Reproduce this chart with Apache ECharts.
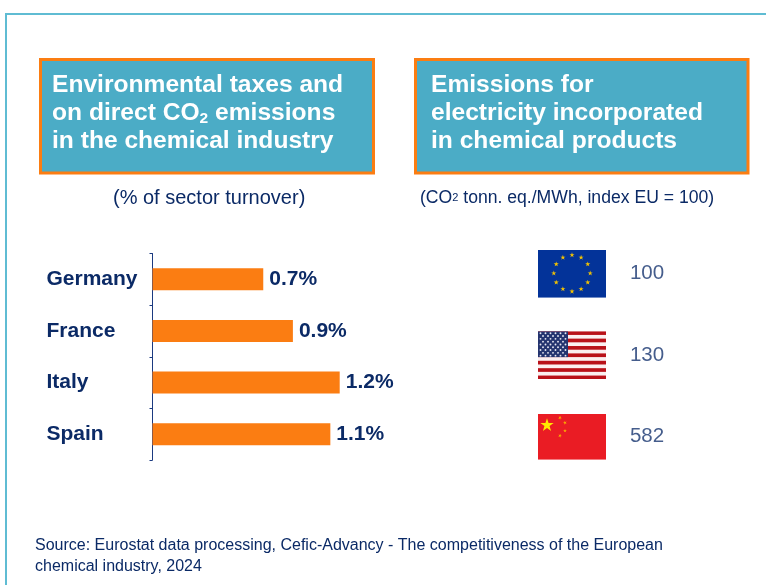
<!DOCTYPE html>
<html><head><meta charset="utf-8">
<script src="https://cdn.jsdelivr.net/npm/echarts@6/dist/echarts.min.js"></script>
<style>html,body{margin:0;padding:0;background:#fff}#c{width:766px;height:585px}</style></head>
<body><div id="c"></div>
<script>
const countries = ['Germany','France','Italy','Spain'];
const taxShare = [0.71,0.90,1.20,1.14];
const regions = ['EU','USA','China'];
const emissionIndex = [100,130,582];
const NAVY='#0b2a66', ORANGE='#fb7d12', TEAL='#4bacc6', FRAME='#5fbcd3';
const FONT='"Liberation Sans",Arial,sans-serif';

function star(cx,cy,r,fill,rot){
  let pts=[];
  for(let i=0;i<10;i++){
    const a=(rot||0)-Math.PI/2+i*Math.PI/5, q=i%2?r*0.382:r;
    pts.push((cx+q*Math.cos(a)).toFixed(2)+','+(cy+q*Math.sin(a)).toFixed(2));
  }
  return `<polygon points="${pts.join(' ')}" fill="${fill}"/>`;
}
function uri(w,h,body){
  return 'image://data:image/svg+xml;charset=utf-8,'+encodeURIComponent(
    `<svg xmlns="http://www.w3.org/2000/svg" width="${w}" height="${h}" viewBox="0 0 ${w} ${h}">${body}</svg>`);
}
function euFlag(){
  let s='<rect width="68" height="48" fill="#033399"/>';
  for(let i=0;i<12;i++){
    const a=i*Math.PI/6;
    s+=star(34+18.2*Math.sin(a),23.5-18.2*Math.cos(a),2.7,'#f5c400');
  }
  return uri(68,48,s);
}
function usFlag(){
  const sh=48/13;
  let s='<rect width="68" height="48" fill="#fbeff0"/>';
  for(let i=0;i<13;i+=2) s+=`<rect y="${(i*sh).toFixed(2)}" width="68" height="${sh.toFixed(2)}" fill="#b91119"/>`;
  s+=`<rect width="30" height="${(7*sh).toFixed(2)}" fill="#24346f"/>`;
  for(let r=0;r<9;r++){
    const n=r%2?5:6;
    for(let c=0;c<n;c++){
      const x=(r%2?5:2.5)+c*5, y=2+r*2.8;
      s+=`<circle cx="${x}" cy="${y.toFixed(1)}" r="0.95" fill="#e8e8f2"/>`;
    }
  }
  return uri(68,48,s);
}
function cnFlag(){
  let s='<rect width="68" height="46" fill="#ea1c24"/>';
  s+=star(9,11.5,7,'#ffe800');
  s+=star(22,4,2,'#f9b000',0.6)+star(27,9,2,'#f9b000',0.9)+star(27,17,2,'#f9b000',0);
  s+=star(22,22,2,'#f9b000',0.5);
  return uri(68,46,s);
}
const flags=[euFlag(),usFlag(),cnFlag()];
const flagSizes=[[68,48],[68,48],[68,46]];

const chart=echarts.init(document.getElementById('c'),null,{renderer:'canvas'});
function headerBox(x,y,w,h){
  return {type:'rect',shape:{x:x,y:y,width:w,height:h},
    style:{fill:TEAL,stroke:ORANGE,lineWidth:3},z:1};
}
function txt(x,y,text,size,weight,fill,extra){
  return Object.assign({type:'text',x:x,y:y,z:5,style:{text:text,font:(weight||'normal')+' '+size+'px '+FONT,
    fontSize:size,fontWeight:weight||'normal',fontFamily:FONT,fill:fill,textVerticalAlign:'middle',verticalAlign:'middle'}},extra||{});
}
const H=24.6;
chart.setOption({
  animation:false,
  backgroundColor:'#fff',
  grid:[
    {left:152.5,top:253.5,width:312,height:206.5},
    {left:534.5,top:233,width:150,height:244.5}
  ],
  xAxis:[
    {gridIndex:0,type:'value',min:0,max:2,show:false},
    {gridIndex:1,type:'category',data:['flag','value'],show:false}
  ],
  yAxis:[
    {gridIndex:0,type:'category',data:countries,inverse:true,
      axisLine:{show:true,lineStyle:{color:'#1b3a80',width:1}},
      axisTick:{show:true,length:3,lineStyle:{color:'#1b3a80'}},
      axisLabel:{color:NAVY,fontFamily:FONT,fontWeight:'bold',fontSize:21,align:'left',margin:106}},
    {gridIndex:1,type:'category',data:regions,inverse:true,show:false}
  ],
  series:[
    {type:'bar',xAxisIndex:0,yAxisIndex:0,data:taxShare,barWidth:22,
      itemStyle:{color:ORANGE},
      label:{show:true,position:'right',distance:6,color:NAVY,fontFamily:FONT,fontWeight:'bold',fontSize:21,
        formatter:p=>p.value.toFixed(1)+'%'}},
    {type:'scatter',xAxisIndex:1,yAxisIndex:1,
      data:regions.map((r,i)=>({value:['flag',r],symbol:flags[i],symbolSize:flagSizes[i]})),
      itemStyle:{opacity:1}},
    {type:'scatter',xAxisIndex:1,yAxisIndex:1,symbolSize:1,
      itemStyle:{color:'transparent'},
      data:regions.map((r,i)=>({value:['value',r],label:{formatter:String(emissionIndex[i])}})),
      label:{show:true,position:'inside',color:'#16356f',fontFamily:FONT,fontSize:20.5}}
  ],
  graphic:[
    {type:'polyline',shape:{points:[[6,600],[6,14],[780,14]]},style:{stroke:FRAME,lineWidth:2,fill:'none'},z:0},
    headerBox(40.5,59.5,333,113.5),
    headerBox(415.5,59.5,332.5,113.5),
    txt(52,85,'Environmental taxes and',H,'bold','#fff'),
    {type:'text',x:52,y:113,z:5,style:{
      text:'on direct CO{s|2} emissions',verticalAlign:'middle',
      fontSize:H,fontWeight:'bold',fontFamily:FONT,fill:'#fff',
      rich:{s:{fontSize:15.5,fontWeight:'bold',fontFamily:FONT,fill:'#fff',padding:[12,0,0,0]}}}},
    txt(52,141,'in the chemical industry',H,'bold','#fff'),
    txt(431,85,'Emissions for',H,'bold','#fff'),
    txt(431,113,'electricity incorporated',H,'bold','#fff'),
    txt(431,141,'in chemical products',H,'bold','#fff'),
    txt(113,198,'(% of sector turnover)',20,'normal',NAVY),
    {type:'text',x:420,y:198,z:5,style:{
      text:'(CO{s|2} tonn. eq./MWh, index EU = 100)',verticalAlign:'middle',
      fontSize:17.6,fontFamily:FONT,fill:NAVY,
      rich:{s:{fontSize:11,fontFamily:FONT,fill:NAVY}}}},
    txt(35,546,'Source: Eurostat data processing, Cefic-Advancy - The competitiveness of the European',16,'normal',NAVY),
    txt(35,566.5,'chemical industry, 2024',16,'normal',NAVY)
  ]
});
</script></body></html>
